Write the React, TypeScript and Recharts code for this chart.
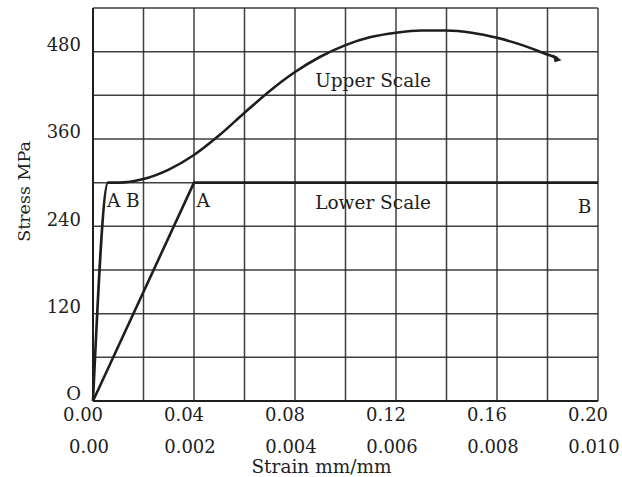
import { LineChart, Line, XAxis, YAxis, CartesianGrid, ReferenceDot } from "recharts";

// upper scale strain (mm/mm) vs stress (MPa)
const upperStrain = [0, 0.006, 0.01, 0.02, 0.03, 0.04, 0.05, 0.06, 0.07, 0.08, 0.09, 0.1, 0.11, 0.12, 0.13, 0.14, 0.15, 0.16, 0.17, 0.18, 0.184];
const upperStress = [0, 300, 300, 305, 318, 338, 365, 396, 426, 452, 473, 489, 500, 506, 509, 509, 506, 499, 489, 476, 471];

// lower scale strain vs stress
const lowerStrain = [0, 0.002, 0.01];
const lowerStress = [0, 300, 300];

const upperTicks = [0, 0.02, 0.04, 0.06, 0.08, 0.1, 0.12, 0.14, 0.16, 0.18, 0.2];
const lowerTicks = [0, 0.002, 0.004, 0.006, 0.008, 0.01];
const stressTicks = [0, 60, 120, 180, 240, 300, 360, 420, 480, 540];

const upperData = upperStrain.map((s, i) => ({ strain: s, stress: upperStress[i] }));
const lowerData = lowerStrain.map((s, i) => ({ strain: s, stress: lowerStress[i] }));

const FONT = "'DejaVu Serif', serif";
const INK = "#1e1e1e";
// axis ids sort so the upper scale sits next to the plot
const UP = "a_upper";
const LO = "b_lower";

const StressLabel = (props: any) => {
    const vb = props.viewBox || { x: 0, y: 0, height: 0 };
    const cx = vb.x + 24;
    const cy = vb.y + vb.height / 2 - 13;
    return (
        <text x={cx} y={cy} transform={`rotate(-90 ${cx} ${cy})`} textAnchor="middle" dominantBaseline="central" fill={INK} fontSize={17.5} fontFamily={FONT}>
            Stress MPa
        </text>
    );
};

const ArrowDot = (props: any) => {
    const { cx, cy, index } = props;
    if (index !== upperData.length - 1) return <g key={`d${index}`} />;
    return (
        <polygon
            key={`d${index}`}
            points={`${cx + 4},${cy + 2} ${cx - 5},${cy - 4} ${cx - 3},${cy + 4}`}
            fill={INK}
        />
    );
};

const note = (value: string) => ({ value, position: "right" as const, offset: 0, fill: INK, fontSize: 18.5, fontFamily: FONT });

export default function App() {
    return (
        <div style={{ position: "absolute", left: 0, top: 0 }}>
            <LineChart width={622} height={477} margin={{ top: 8, right: 24, left: 0, bottom: 0 }}>
                <CartesianGrid xAxisId={UP} yAxisId="s" stroke="#2a2a2a" strokeWidth={1.5} strokeOpacity={0.9} />
                <XAxis
                    xAxisId={UP}
                    dataKey="strain"
                    type="number"
                    domain={[0, 0.2]}
                    ticks={upperTicks}
                    interval={0}
                    height={30}
                    tickSize={0}
                    tickMargin={7}
                    axisLine={{ stroke: INK, strokeWidth: 2 }}
                    tickFormatter={(v: number) => (Math.round(v * 100) % 4 === 0 ? v.toFixed(2) : "")}
                    tick={{ fill: INK, fontSize: 18, fontFamily: FONT, dx: -10 }}
                />
                <XAxis
                    xAxisId={LO}
                    dataKey="strain"
                    type="number"
                    domain={[0, 0.01]}
                    ticks={lowerTicks}
                    interval={0}
                    height={46}
                    tickSize={0}
                    tickMargin={9}
                    axisLine={false}
                    tickFormatter={(v: number) => (v === 0 ? "0.00" : v.toFixed(3))}
                    tick={{ fill: INK, fontSize: 18, fontFamily: FONT, dx: -4 }}
                    label={{ value: "Strain mm/mm", position: "insideBottom", offset: 4, dx: -24, fill: INK, fontSize: 18.5, fontFamily: FONT }}
                />
                <YAxis
                    yAxisId="s"
                    type="number"
                    domain={[0, 540]}
                    ticks={stressTicks}
                    interval={0}
                    width={93}
                    tickSize={0}
                    tickMargin={12}
                    axisLine={{ stroke: INK, strokeWidth: 2 }}
                    tickFormatter={(v: number) => (v === 0 ? "O" : v % 120 === 0 && v < 540 ? String(v) : "")}
                    tick={{ fill: INK, fontSize: 18, fontFamily: FONT, dy: -7 }}
                    label={<StressLabel />}
                />
                <Line
                    xAxisId={LO}
                    yAxisId="s"
                    data={lowerData}
                    dataKey="stress"
                    type="linear"
                    stroke={INK}
                    strokeWidth={2.6}
                    dot={false}
                    isAnimationActive={false}
                />
                <Line
                    xAxisId={UP}
                    yAxisId="s"
                    data={upperData}
                    dataKey="stress"
                    type="monotone"
                    stroke={INK}
                    strokeWidth={2.6}
                    dot={ArrowDot}
                    isAnimationActive={false}
                />
                <ReferenceDot xAxisId={UP} yAxisId="s" x={0.088} y={441} r={0} fill="none" stroke="none" label={note("Upper Scale")} />
                <ReferenceDot xAxisId={UP} yAxisId="s" x={0.088} y={273} r={0} fill="none" stroke="none" label={note("Lower Scale")} />
                <ReferenceDot xAxisId={UP} yAxisId="s" x={0.0055} y={276} r={0} fill="none" stroke="none" label={note("A B")} />
                <ReferenceDot xAxisId={UP} yAxisId="s" x={0.041} y={275} r={0} fill="none" stroke="none" label={note("A")} />
                <ReferenceDot xAxisId={UP} yAxisId="s" x={0.192} y={267} r={0} fill="none" stroke="none" label={note("B")} />
            </LineChart>
        </div>
    );
}
